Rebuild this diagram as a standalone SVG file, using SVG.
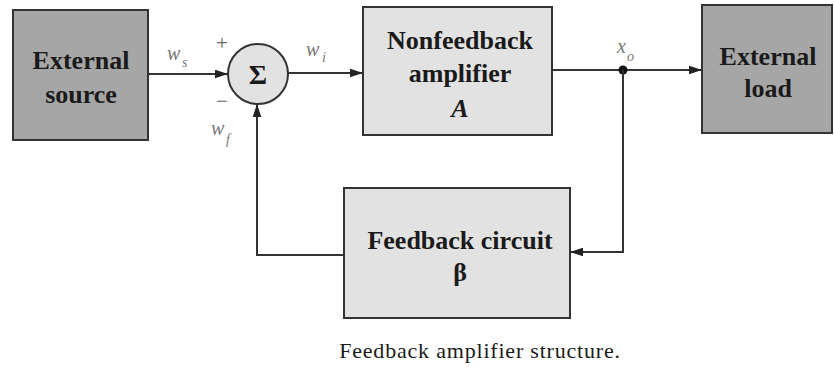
<svg xmlns="http://www.w3.org/2000/svg" width="834" height="367" viewBox="0 0 834 367">
<style>
.dark{fill:#a6a6a6;stroke:#333;stroke-width:2}
.light{fill:#e2e2e2;stroke:#333;stroke-width:2}
.lbl{font-family:"Liberation Serif","Times New Roman",serif;font-weight:bold;font-size:26px;fill:#1a1a1a;text-anchor:middle}
.sig{font-family:"Liberation Serif","Times New Roman",serif;font-style:italic;font-size:20px;fill:#777}
.sub{font-family:"Liberation Serif","Times New Roman",serif;font-style:italic;font-size:14px;fill:#777}
.wire{fill:none;stroke:#333;stroke-width:2}
.cap{font-family:"Liberation Serif","Times New Roman",serif;font-size:22px;fill:#1a1a1a;text-anchor:middle;letter-spacing:0.8px}
.sign{font-family:"Liberation Serif","Times New Roman",serif;font-size:21px;fill:#666;text-anchor:middle}
</style>
<defs>
<marker id="ah" viewBox="0 0 12 8" refX="12" refY="4" markerWidth="13" markerHeight="9" markerUnits="userSpaceOnUse" orient="auto">
<path d="M0,0 L12,4 L0,8 Z" fill="#222"/>
</marker>
</defs>
<g id="source">
<rect class="dark" x="13" y="10" width="135" height="130"/>
<text class="lbl" x="81" y="69">External</text>
<text class="lbl" x="81" y="103">source</text>
</g>
<g id="sum">
<circle cx="258" cy="74" r="30" fill="#e2e2e2" stroke="#333" stroke-width="2"/>
<text x="258" y="84" font-family="Liberation Serif,Times New Roman,serif" font-weight="bold" font-size="28" text-anchor="middle" fill="#1a1a1a">Σ</text>
<text class="sign" x="222" y="50">+</text>
<text class="sign" x="222" y="108">−</text>
</g>
<g id="amp">
<rect class="light" x="363" y="7" width="189" height="128"/>
<text class="lbl" x="460" y="49">Nonfeedback</text>
<text class="lbl" x="460" y="82">amplifier</text>
<text class="lbl" x="460" y="117" font-style="italic">A</text>
</g>
<g id="load">
<rect class="dark" x="702" y="5" width="130" height="128"/>
<text class="lbl" x="768" y="65">External</text>
<text class="lbl" x="768" y="97">load</text>
</g>
<g id="feedback">
<rect class="light" x="344" y="188" width="226" height="130"/>
<text class="lbl" x="460" y="249">Feedback circuit</text>
<text class="lbl" x="460" y="281">β</text>
</g>
<g id="connectors">
<line class="wire" x1="148" y1="74" x2="228" y2="74" marker-end="url(#ah)"/>
<line class="wire" x1="288" y1="73" x2="363" y2="73" marker-end="url(#ah)"/>
<line class="wire" x1="552" y1="70" x2="702" y2="70" marker-end="url(#ah)"/>
<circle cx="623" cy="70" r="4.5" fill="#111"/>
<polyline class="wire" points="623,70 623,252 570,252" marker-end="url(#ah)"/>
<polyline class="wire" points="344,255 257,255 257,104" marker-end="url(#ah)"/>
<text class="sig" x="167" y="60">w</text><text class="sub" x="182" y="67">s</text>
<text class="sig" x="306" y="56">w</text><text class="sub" x="322" y="62">i</text>
<text class="sig" x="211" y="135">w</text><text class="sub" x="226" y="144">f</text>
<text class="sig" x="617" y="53">x</text><text class="sub" x="627" y="61">o</text>
</g>
<text class="cap" x="480" y="358">Feedback amplifier structure.</text>
</svg>
